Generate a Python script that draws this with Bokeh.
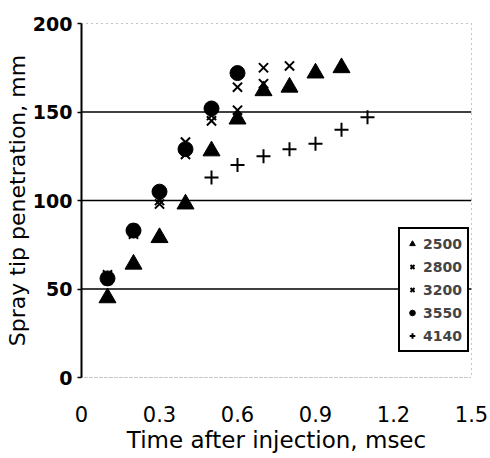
from bokeh.plotting import figure
from bokeh.models import FixedTicker, Legend, LegendItem, Span
from bokeh.embed import file_html
from bokeh.resources import INLINE

# Data (time after injection in msec, spray tip penetration in mm)
t_2500 = [0.1, 0.2, 0.3, 0.4, 0.5, 0.6, 0.7, 0.8, 0.9, 1.0]
y_2500 = [45, 64, 79, 98, 128, 146, 162, 164, 172, 175]

t_2800 = [0.1, 0.2, 0.3, 0.4, 0.5, 0.6, 0.7, 0.8]
y_2800 = [58, 84, 98, 133, 145, 164, 175, 176]

t_3200 = [0.1, 0.2, 0.3, 0.4, 0.5, 0.6, 0.7]
y_3200 = [55, 81, 100, 126, 148, 151, 166]

t_3550 = [0.1, 0.2, 0.3, 0.4, 0.5, 0.6]
y_3550 = [56, 83, 105, 129, 152, 172]

t_4140 = [0.5, 0.6, 0.7, 0.8, 0.9, 1.0, 1.1]
y_4140 = [113, 120, 125, 129, 132, 140, 147]

x_ticks = [0, 0.3, 0.6, 0.9, 1.2, 1.5]
x_tick_labels = ["0", "0.3", "0.6", "0.9", "1.2", "1.5"]
y_ticks = [0, 50, 100, 150, 200]
grid_levels = [50, 100, 150]
series_names = ["2500", "2800", "3200", "3550", "4140"]

FONT = "DejaVu Sans"

p = figure(frame_width=390, frame_height=354, x_range=(0, 1.5), y_range=(0, 200),
           output_backend="svg", toolbar_location=None,
           min_border_left=81, min_border_right=19,
           min_border_top=23, min_border_bottom=81)

p.xgrid.visible = False
p.ygrid.visible = False
p.outline_line_color = "#888888"
p.outline_line_dash = "1 4"
p.outline_line_width = 1

for g in grid_levels:
    p.add_layout(Span(location=g, dimension="width", line_color="black", line_width=1.6))

# axes
p.xaxis.ticker = FixedTicker(ticks=x_ticks)
p.xaxis.major_label_overrides = {t: l for t, l in zip(x_ticks, x_tick_labels)}
p.yaxis.ticker = FixedTicker(ticks=y_ticks)
p.xaxis.axis_line_color = "#999999"
p.xaxis.axis_line_dash = "1 4"
p.xaxis.major_tick_line_color = None
p.xaxis.minor_tick_line_color = None
p.yaxis.minor_tick_line_color = None
p.yaxis.axis_line_width = 2
p.yaxis.major_tick_in = 0
p.yaxis.major_tick_out = 4
p.yaxis.major_tick_line_width = 1.5

p.xaxis.axis_label = "Time after injection, msec"
p.yaxis.axis_label = "Spray tip penetration, mm"
for ax in (p.xaxis[0], p.yaxis[0]):
    ax.major_label_text_font = FONT
    ax.axis_label_text_font = FONT
    ax.major_label_text_color = "black"
    ax.axis_label_text_color = "black"
    ax.axis_label_text_font_style = "normal"
p.yaxis.axis_label_text_font_size = "22px"
p.xaxis.axis_label_text_font_size = "23px"
p.yaxis.major_label_text_font_size = "19px"
p.xaxis.major_label_text_font_size = "21px"
p.yaxis.major_label_text_font_style = "bold"
p.xaxis.major_label_text_font_style = "normal"
p.xaxis.major_label_standoff = 22
p.xaxis.axis_label_standoff = 2
p.yaxis.major_label_standoff = 5
p.yaxis.axis_label_standoff = 0

r1 = p.scatter(t_2500, y_2500, marker="triangle", size=17, color="black")
r2 = p.scatter(t_2800, y_2800, marker="x", size=13, line_color="black", line_width=2)
r3 = p.scatter(t_3200, y_3200, marker="x", size=13, line_color="black", line_width=2)
r4 = p.scatter(t_3550, y_3550, marker="circle", size=15, color="black")
r5 = p.scatter(t_4140, y_4140, marker="cross", size=14, line_color="black", line_width=2)

legend = Legend(items=[LegendItem(label=n, renderers=[r]) for n, r in
                       zip(series_names, [r1, r2, r3, r4, r5])],
                location=(317, 25))
legend.border_line_color = "black"
legend.border_line_alpha = 1
legend.border_line_width = 2
legend.background_fill_color = "white"
legend.background_fill_alpha = 1
legend.label_text_font = FONT
legend.label_text_font_style = "bold"
legend.label_text_font_size = "14px"
legend.glyph_width = 14
legend.glyph_height = 19
legend.label_height = 19
legend.label_standoff = 4
legend.spacing = 4
legend.padding = 5
legend.margin = 0
p.add_layout(legend, "center")

open("out.html", "w").write(file_html(p, INLINE))
